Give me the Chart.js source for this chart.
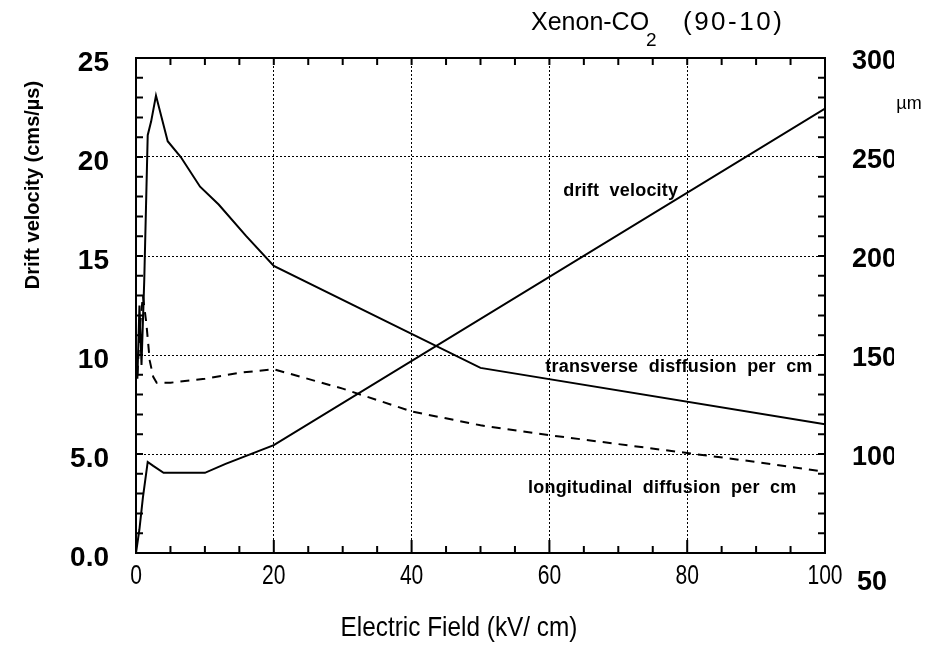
<!DOCTYPE html>
<html lang="en">
<head>
<meta charset="UTF-8">
<title>Xenon-CO2 (90-10)</title>
<script src="https://cdn.jsdelivr.net/npm/chart.js"></script>
<style>
    body { margin: 0; background: #fff; }
    canvas { display: block; }
</style>
</head>
<body>
<canvas id="chart" width="936" height="653"></canvas>
<script>
// values
const driftE = [0, 0.5, 1.0, 1.7, 2.5, 4, 10, 13, 20, 100];
const driftV = [0, 1.2, 2.8, 4.6, 4.4, 4.05, 4.05, 4.5, 5.45, 22.45];   // cm/us (left axis)

const transE = [0.2, 0.5, 0.8, 1.2, 1.7, 2.2, 2.9, 4.6, 6.5, 9.3, 12, 16, 20, 50, 100];
const transUm = [138, 175, 145, 188, 261, 268, 281, 258, 250, 235, 226, 210, 195, 143.5, 115];  // um (right axis)

const longE = [0.2, 0.6, 1.0, 1.5, 2.0, 2.5, 3, 5, 10, 15, 20, 30, 40, 50, 60, 70, 80, 90, 100];
const longUm = [140, 165, 180, 166, 147, 139, 136, 136, 138, 141, 142.8, 133, 121.5, 114.5, 109.5, 105, 100.5, 96, 91];

const xTicks = [0, 20, 40, 60, 80, 100];
const leftTickLabels = { 0: '0.0', 5: '5.0', 10: '10', 15: '15', 20: '20', 25: '25' };
const rightTicks = [50, 100, 150, 200, 250, 300];

const curveLabels = [
    { text: 'drift  velocity', E: 62, v: 18.3 },
    { text: 'transverse  disffusion  per  cm', E: 59.4, v: 9.4 },
    { text: 'longitudinal  diffusion  per  cm', E: 56.9, v: 3.3 }
];

const pts = (xs, ys) => xs.map((x, i) => ({ x: x, y: ys[i] }));

const fontSans = "'Liberation Sans', Arial, sans-serif";

// draw text squeezed horizontally (the original uses a condensed face)
function narrowText(ctx, text, cx, cy, sx) {
    ctx.save();
    ctx.translate(cx, cy);
    ctx.scale(sx, 1);
    ctx.fillText(text, 0, 0);
    ctx.restore();
}

const decorations = {
    id: 'decorations',
    afterDraw(chart) {
        const ctx = chart.ctx;
        const a = chart.chartArea;
        const x = chart.scales.x, y = chart.scales.y, y2 = chart.scales.y2;
        ctx.save();
        ctx.strokeStyle = '#000';
        ctx.fillStyle = '#000';

        // frame
        ctx.lineWidth = 2;
        ctx.strokeRect(a.left, a.top, a.right - a.left, a.bottom - a.top);

        // inward minor ticks
        ctx.beginPath();
        for (let v = 1; v < 25; v++) {
            const py = y.getPixelForValue(v);
            ctx.moveTo(a.left, py); ctx.lineTo(a.left + 7, py);
            ctx.moveTo(a.right, py); ctx.lineTo(a.right - 7, py);
        }
        for (let e = 5; e < 100; e += 5) {
            const px = x.getPixelForValue(e);
            const len = e % 20 === 0 ? 13 : 7;
            ctx.moveTo(px, a.bottom); ctx.lineTo(px, a.bottom - len);
            ctx.moveTo(px, a.top); ctx.lineTo(px, a.top + 7);
        }
        ctx.stroke();

        // x tick labels
        ctx.font = '27px ' + fontSans;
        ctx.textAlign = 'center';
        ctx.textBaseline = 'middle';
        xTicks.forEach(v => {
            narrowText(ctx, String(v), x.getPixelForValue(v), a.bottom + 24, 0.78);
        });

        // right axis labels (clipped at the image edge like the original)
        ctx.save();
        ctx.beginPath();
        ctx.rect(840, 0, 54, 653);
        ctx.clip();
        ctx.font = 'bold 27px ' + fontSans;
        ctx.textBaseline = 'middle';
        ctx.textAlign = 'left';
        rightTicks.forEach(v => {
            const py = y2.getPixelForValue(v) + (v === 50 ? 30 : 4);
            ctx.fillText(String(v), v === 50 ? 857 : 852, py);
        });
        ctx.restore();

        ctx.font = '18px ' + fontSans;
        ctx.textAlign = 'center';
        ctx.fillText('\u00b5m', 909, 104);

        // title
        ctx.font = '25px ' + fontSans;
        ctx.textAlign = 'left';
        ctx.textBaseline = 'alphabetic';
        ctx.fillText('Xenon-CO', 531, 30);
        const w = ctx.measureText('Xenon-CO').width;
        ctx.font = '19px ' + fontSans;
        ctx.fillText('2', 531 + w - 3, 46);
        ctx.font = '26px ' + fontSans;
        ctx.letterSpacing = '2.5px';
        ctx.fillText('(90-10)', 683, 30);
        ctx.letterSpacing = '0px';

        // axis titles
        ctx.font = '28px ' + fontSans;
        ctx.textAlign = 'center';
        ctx.textBaseline = 'middle';
        narrowText(ctx, 'Electric Field (kV/ cm)', 459, 628, 0.87);

        ctx.save();
        ctx.translate(33, 185);
        ctx.rotate(-Math.PI / 2);
        ctx.font = 'bold 20px ' + fontSans;
        ctx.fillText('Drift velocity (cms/\u00b5s)', 0, 0);
        ctx.restore();

        // curve annotations
        ctx.font = 'bold 18px ' + fontSans;
        ctx.textAlign = 'left';
        ctx.letterSpacing = '0.2px';
        curveLabels.forEach(l => {
            ctx.fillText(l.text, x.getPixelForValue(l.E), y.getPixelForValue(l.v));
        });
        ctx.restore();
    }
};

const innerGrid = (lo, hi) => c => (c.tick.value > lo && c.tick.value < hi) ? '#000' : 'rgba(0,0,0,0)';

new Chart(document.getElementById('chart'), {
    type: 'line',
    data: {
        datasets: [{
            label: 'drift velocity',
            data: pts(driftE, driftV),
            yAxisID: 'y',
            borderColor: '#000',
            borderWidth: 2
        }, {
            label: 'transverse diffusion per cm',
            data: pts(transE, transUm),
            yAxisID: 'y2',
            borderColor: '#000',
            borderWidth: 2
        }, {
            label: 'longitudinal diffusion per cm',
            data: pts(longE, longUm),
            yAxisID: 'y2',
            borderColor: '#000',
            borderWidth: 2,
            borderDash: [9, 7]
        }]
    },
    options: {
        responsive: false,
        animation: false,
        layout: { padding: { top: 58, left: 0, right: 0, bottom: 0 } },
        elements: { point: { radius: 0 }, line: { tension: 0 } },
        plugins: { legend: { display: false }, tooltip: { enabled: false } },
        scales: {
            x: {
                type: 'linear',
                min: 0, max: 100,
                afterFit: s => { s.height = 100; },
                afterBuildTicks: s => { s.ticks = xTicks.map(v => ({ value: v })); },
                grid: { color: innerGrid(0, 100), lineWidth: 1, drawTicks: false },
                border: { display: false, dash: [2, 2] },
                ticks: { display: false }
            },
            y: {
                min: 0, max: 25,
                afterFit: s => { s.width = 136; },
                grid: { color: innerGrid(0, 25), lineWidth: 1, drawTicks: false },
                border: { display: false, dash: [2, 2] },
                ticks: {
                    stepSize: 5,
                    color: '#000',
                    padding: 27,
                    labelOffset: 5,
                    font: { family: fontSans, size: 28, weight: 'bold' },
                    callback: v => leftTickLabels[v]
                }
            },
            y2: {
                position: 'right',
                min: 50, max: 300,
                afterFit: s => { s.width = 111; },
                grid: { display: false },
                border: { display: false },
                ticks: { display: false, stepSize: 50 }
            }
        }
    },
    plugins: [decorations]
});
</script>
</body>
</html>
